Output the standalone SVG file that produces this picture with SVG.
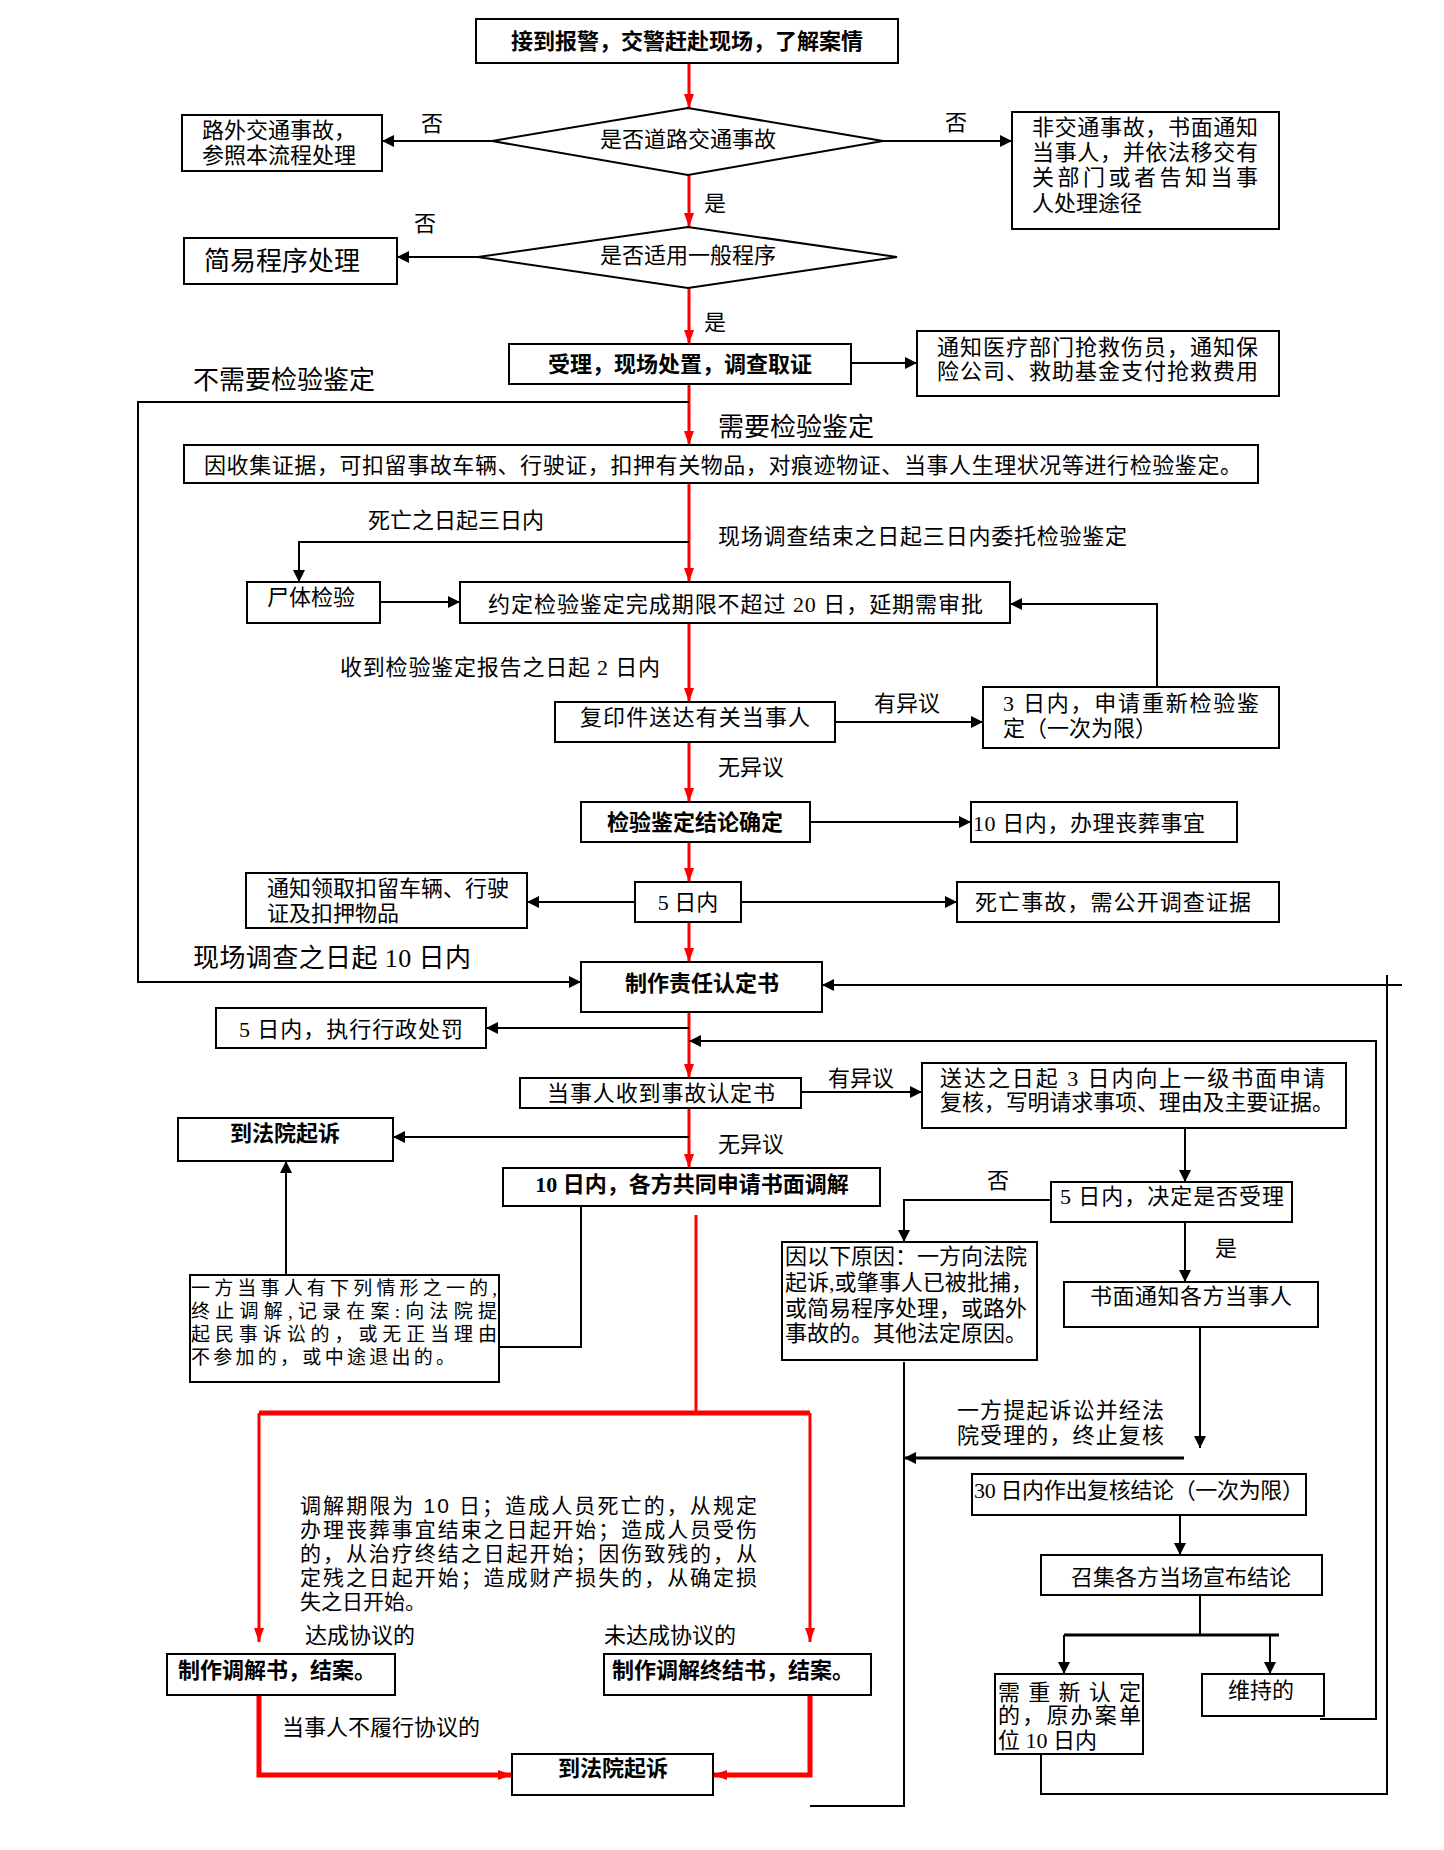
<svg xmlns="http://www.w3.org/2000/svg" width="1444" height="1850" viewBox="0 0 1444 1850">
<style>
.bx{fill:#fff;stroke:#000;stroke-width:2}
.t{font-family:"Liberation Serif","Noto Sans CJK SC",serif;font-size:22px;fill:#000;dominant-baseline:central}
.c{text-anchor:middle}
.b{font-family:"Liberation Serif","Noto Sans CJK SC",sans-serif;font-weight:bold}
.L{font-size:26px}
.m{font-size:19px}
.ln{fill:none;stroke:#000;stroke-width:2}
.rd{fill:none;stroke:#f00;stroke-width:3}
.rdt{fill:none;stroke:#f00;stroke-width:5}
.s{font-family:"Liberation Sans","Noto Sans CJK SC",sans-serif;font-size:21px}
</style>
<defs>
<marker id="ab" viewBox="0 0 12 12" refX="12" refY="6" markerWidth="12" markerHeight="12" markerUnits="userSpaceOnUse" orient="auto"><path d="M0,0 L12,6 L0,12 z" fill="#000"/></marker>
<marker id="ar" viewBox="0 0 14 10" refX="14" refY="5" markerWidth="14" markerHeight="10" markerUnits="userSpaceOnUse" orient="auto"><path d="M0,0 L14,5 L0,10 z" fill="#f00"/></marker>
</defs>

<g id="connectors">
<path class="rd" d="M689,63 V108" marker-end="url(#ar)"/>
<path class="rd" d="M689,175 V227" marker-end="url(#ar)"/>
<path class="rd" d="M689,288 V344" marker-end="url(#ar)"/>
<path class="rd" d="M689,384 V445" marker-end="url(#ar)"/>
<path class="rd" d="M689,483 V582" marker-end="url(#ar)"/>
<path class="rd" d="M689,623 V702" marker-end="url(#ar)"/>
<path class="rd" d="M689,742 V802" marker-end="url(#ar)"/>
<path class="rd" d="M689,842 V882" marker-end="url(#ar)"/>
<path class="rd" d="M689,922 V962" marker-end="url(#ar)"/>
<path class="rd" d="M689,1012 V1078" marker-end="url(#ar)"/>
<path class="rd" d="M689,1108 V1168" marker-end="url(#ar)"/>
<path class="rd" d="M696,1215 V1413"/>
<path class="rdt" d="M259,1413 H810"/>
<path class="rd" d="M259,1413 V1642" marker-end="url(#ar)"/>
<path class="rd" d="M810,1413 V1642" marker-end="url(#ar)"/>
<path class="rdt" d="M259,1695 V1775 H512" marker-end="url(#ar)"/>
<path class="rdt" d="M810,1695 V1775 H713" marker-end="url(#ar)"/>

<path class="ln" d="M492,141 H382" marker-end="url(#ab)"/>
<path class="ln" d="M883,141 H1012" marker-end="url(#ab)"/>
<path class="ln" d="M478,257 H397" marker-end="url(#ab)"/>
<path class="ln" d="M851,363 H917" marker-end="url(#ab)"/>
<path class="ln" d="M689,402 H138 V982 H581" marker-end="url(#ab)"/>
<path class="ln" d="M689,542 H299 V582" marker-end="url(#ab)"/>
<path class="ln" d="M380,602 H460" marker-end="url(#ab)"/>
<path class="ln" d="M835,722 H983" marker-end="url(#ab)"/>
<path class="ln" d="M1157,687 V604 H1010" marker-end="url(#ab)"/>
<path class="ln" d="M810,822 H971" marker-end="url(#ab)"/>
<path class="ln" d="M635,902 H527" marker-end="url(#ab)"/>
<path class="ln" d="M741,902 H957" marker-end="url(#ab)"/>
<path class="ln" d="M689,1028 H486" marker-end="url(#ab)"/>
<path class="ln" d="M1320,1719 H1376 V1041 H689" marker-end="url(#ab)"/>
<path class="ln" d="M1041,1754 V1794 H1387 V975"/>
<path class="ln" d="M1402,985 H822" marker-end="url(#ab)"/>
<path class="ln" d="M801,1092 H922" marker-end="url(#ab)"/>
<path class="ln" d="M689,1137 H393" marker-end="url(#ab)"/>
<path class="ln" d="M1185,1128 V1182" marker-end="url(#ab)"/>
<path class="ln" d="M1051,1200 H904 V1242" marker-end="url(#ab)"/>
<path class="ln" d="M1185,1222 V1282" marker-end="url(#ab)"/>
<path class="ln" d="M1200,1327 V1448" marker-end="url(#ab)"/>
<path class="ln" style="stroke-width:3" d="M1184,1458 H904" marker-end="url(#ab)"/>
<path class="ln" d="M904,1362 V1806 H810"/>
<path class="ln" d="M1180,1515 V1555" marker-end="url(#ab)"/>
<path class="ln" d="M1200,1595 V1635"/>
<path class="ln" style="stroke-width:3" d="M1064,1635 H1279"/>
<path class="ln" d="M1064,1635 V1674" marker-end="url(#ab)"/>
<path class="ln" d="M1270,1635 V1674" marker-end="url(#ab)"/>
<path class="ln" d="M581,1206 V1347 H488"/>
<path class="ln" d="M286,1275 V1161" marker-end="url(#ab)"/>
</g>

<g id="n1"><rect class="bx" x="476" y="19" width="422" height="44"/><text class="t b c" x="687" y="41">接到报警，交警赶赴现场，了解案情</text></g>
<g id="n2"><polygon class="bx" points="492,141 688,108 883,141 688,175"/><text class="t c" x="688" y="139">是否道路交通事故</text></g>
<g id="n3"><rect class="bx" x="182" y="115" width="200" height="56"/><text class="t" x="202" y="130">路外交通事故，</text><text class="t" x="202" y="155">参照本流程处理</text></g>
<g id="n4"><rect class="bx" x="1012" y="112" width="267" height="117"/><text class="t" x="1032" y="127" textLength="226">非交通事故，书面通知</text><text class="t" x="1032" y="152" textLength="226">当事人，并依法移交有</text><text class="t" x="1032" y="177" textLength="226">关部门或者告知当事</text><text class="t" x="1032" y="203">人处理途径</text></g>
<g id="n5"><polygon class="bx" points="478,257 688,227 897,257 688,288"/><text class="t c" x="688" y="255">是否适用一般程序</text></g>
<g id="n6"><rect class="bx" x="184" y="238" width="213" height="46"/><text class="t L" x="204" y="261">简易程序处理</text></g>
<g id="n7"><rect class="bx" x="509" y="344" width="342" height="40"/><text class="t b c" x="680" y="364">受理，现场处置，调查取证</text></g>
<g id="n8"><rect class="bx" x="917" y="331" width="362" height="65"/><text class="t" x="937" y="347" textLength="321">通知医疗部门抢救伤员，通知保</text><text class="t" x="937" y="371" textLength="321">险公司、救助基金支付抢救费用</text></g>
<g id="n9"><rect class="bx" x="184" y="445" width="1074" height="38"/><text class="t" x="204" y="465" textLength="1038">因收集证据，可扣留事故车辆、行驶证，扣押有关物品，对痕迹物证、当事人生理状况等进行检验鉴定。</text></g>
<g id="n10"><rect class="bx" x="247" y="582" width="133" height="41"/><text class="t" x="267" y="597">尸体检验</text></g>
<g id="n11"><rect class="bx" x="460" y="582" width="550" height="41"/><text class="t" x="488" y="604" textLength="495">约定检验鉴定完成期限不超过 20 日，延期需审批</text></g>
<g id="n12"><rect class="bx" x="555" y="702" width="280" height="40"/><text class="t" x="580" y="717" textLength="230">复印件送达有关当事人</text></g>
<g id="n13"><rect class="bx" x="983" y="687" width="296" height="61"/><text class="t" x="1003" y="703" textLength="256">3 日内，申请重新检验鉴</text><text class="t" x="1003" y="728">定（一次为限）</text></g>
<g id="n14"><rect class="bx" x="581" y="802" width="229" height="40"/><text class="t b c" x="695" y="822">检验鉴定结论确定</text></g>
<g id="n15"><rect class="bx" x="971" y="802" width="266" height="40"/><text class="t" x="973" y="823" textLength="232">10 日内，办理丧葬事宜</text></g>
<g id="n16"><rect class="bx" x="635" y="882" width="106" height="40"/><text class="t c" x="688" y="902">5 日内</text></g>
<g id="n17"><rect class="bx" x="246" y="873" width="281" height="55"/><text class="t" x="267" y="888">通知领取扣留车辆、行驶</text><text class="t" x="267" y="913">证及扣押物品</text></g>
<g id="n18"><rect class="bx" x="957" y="882" width="322" height="40"/><text class="t" x="975" y="902" textLength="276">死亡事故，需公开调查证据</text></g>
<g id="n19"><rect class="bx" x="581" y="962" width="241" height="50"/><text class="t b c" x="702" y="983">制作责任认定书</text></g>
<g id="n20"><rect class="bx" x="216" y="1008" width="270" height="40"/><text class="t" x="239" y="1029" textLength="224">5 日内，执行行政处罚</text></g>
<g id="n21"><rect class="bx" x="520" y="1078" width="281" height="30"/><text class="t" x="547" y="1093" textLength="228">当事人收到事故认定书</text></g>
<g id="n22"><rect class="bx" x="922" y="1063" width="424" height="65"/><text class="t" x="940" y="1078" textLength="385">送达之日起 3 日内向上一级书面申请</text><text class="t" x="940" y="1102" textLength="394">复核，写明请求事项、理由及主要证据。</text></g>
<g id="n23"><rect class="bx" x="178" y="1118" width="215" height="43"/><text class="t b c" x="285" y="1133">到法院起诉</text></g>
<g id="n24"><rect class="bx" x="503" y="1168" width="377" height="38"/><text class="t b c" x="692" y="1184">10 日内，各方共同申请书面调解</text></g>
<g id="n25"><rect class="bx" x="1051" y="1182" width="241" height="40"/><text class="t" x="1060" y="1196" textLength="224">5 日内，决定是否受理</text></g>
<g id="n26"><rect class="bx" x="782" y="1242" width="255" height="118"/><text class="t" x="785" y="1256">因以下原因：一方向法院</text><text class="t" x="785" y="1282" textLength="248">起诉,或肇事人已被批捕，</text><text class="t" x="785" y="1308">或简易程序处理，或路外</text><text class="t" x="785" y="1333">事故的。其他法定原因。</text></g>
<g id="n27"><rect class="bx" x="1064" y="1282" width="254" height="45"/><text class="t" x="1090" y="1296" textLength="202">书面通知各方当事人</text></g>
<g id="n28"><rect class="bx" x="190" y="1275" width="309" height="107"/><text class="t m" x="191" y="1288" textLength="306">一方当事人有下列情形之一的,</text><text class="t m" x="191" y="1311" textLength="306">终止调解,记录在案:向法院提</text><text class="t m" x="191" y="1334" textLength="306">起民事诉讼的，或无正当理由</text><text class="t m" x="191" y="1357" textLength="264">不参加的，或中途退出的。</text></g>
<g id="n29"><rect class="bx" x="972" y="1474" width="334" height="41"/><text class="t" x="974" y="1490" textLength="330">30 日内作出复核结论（一次为限）</text></g>
<g id="n30"><rect class="bx" x="1041" y="1555" width="281" height="40"/><text class="t c" x="1181" y="1577">召集各方当场宣布结论</text></g>
<g id="n31"><rect class="bx" x="995" y="1674" width="148" height="80"/><text class="t" x="998" y="1692" textLength="143">需 重 新 认 定</text><text class="t" x="998" y="1715" textLength="143">的，原办案单</text><text class="t" x="998" y="1740">位 10 日内</text></g>
<g id="n32"><rect class="bx" x="1202" y="1674" width="122" height="42"/><text class="t" x="1228" y="1690">维持的</text></g>
<g id="n33"><rect class="bx" x="167" y="1654" width="228" height="41"/><text class="t b" x="178" y="1670">制作调解书，结案。</text></g>
<g id="n34"><rect class="bx" x="604" y="1654" width="267" height="41"/><text class="t b" x="612" y="1670">制作调解终结书，结案。</text></g>
<g id="n35"><rect class="bx" x="512" y="1754" width="201" height="41"/><text class="t b c" x="613" y="1768">到法院起诉</text></g>

<g id="labels">
<text class="t" x="421" y="123">否</text>
<text class="t" x="945" y="122">否</text>
<text class="t" x="704" y="203">是</text>
<text class="t" x="414" y="223">否</text>
<text class="t" x="704" y="322">是</text>
<text class="t L" x="193" y="380">不需要检验鉴定</text>
<text class="t L" x="718" y="427">需要检验鉴定</text>
<text class="t" x="368" y="520">死亡之日起三日内</text>
<text class="t" x="718" y="536" textLength="409">现场调查结束之日起三日内委托检验鉴定</text>
<text class="t" x="340" y="667" textLength="320">收到检验鉴定报告之日起 2 日内</text>
<text class="t" x="874" y="703">有异议</text>
<text class="t" x="718" y="767">无异议</text>
<text class="t L" x="193" y="958" textLength="278">现场调查之日起 10 日内</text>
<text class="t" x="828" y="1078">有异议</text>
<text class="t" x="718" y="1144">无异议</text>
<text class="t" x="987" y="1180">否</text>
<text class="t" x="1215" y="1248">是</text>
<text class="t" x="957" y="1410" textLength="207">一方提起诉讼并经法</text>
<text class="t" x="957" y="1435" textLength="207">院受理的，终止复核</text>
<text class="t s" x="300" y="1505" textLength="457">调解期限为 10 日；造成人员死亡的，从规定</text>
<text class="t s" x="300" y="1529" textLength="457">办理丧葬事宜结束之日起开始；造成人员受伤</text>
<text class="t s" x="300" y="1553" textLength="457">的，从治疗终结之日起开始；因伤致残的，从</text>
<text class="t s" x="300" y="1577" textLength="457">定残之日起开始；造成财产损失的，从确定损</text>
<text class="t s" x="300" y="1601">失之日开始。</text>
<text class="t" x="305" y="1635">达成协议的</text>
<text class="t" x="604" y="1635">未达成协议的</text>
<text class="t" x="282" y="1727">当事人不履行协议的</text>
</g>
</svg>
